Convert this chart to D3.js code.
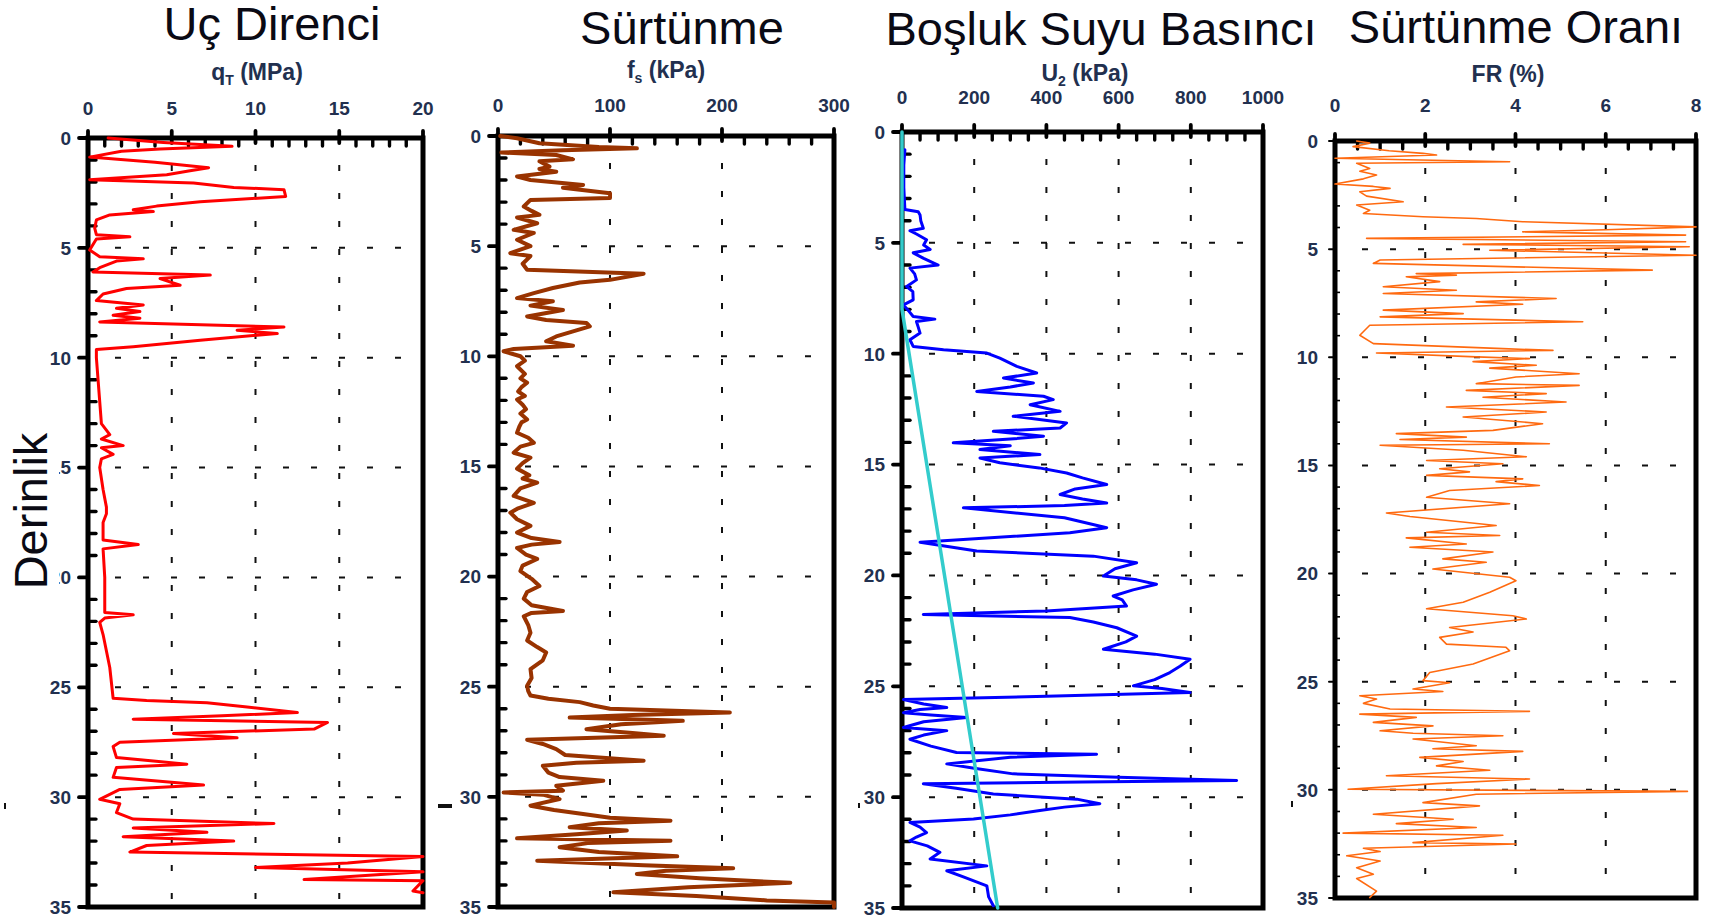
<!DOCTYPE html>
<html>
<head>
<meta charset="utf-8">
<script src="https://cdn.jsdelivr.net/npm/d3@7/dist/d3.min.js"></script>
<style>
  html, body { margin: 0; padding: 0; background: #fff; }
  svg { display: block; }
  text { font-family: "Liberation Sans", Arial, sans-serif; }
</style>
</head>
<body>
<svg id="chart" width="1725" height="920"></svg>
<script>
// CPT sounding: depth (m) vs. cone resistance, sleeve friction, pore pressure, friction ratio

const depthTicks = [0, 5, 10, 15, 20, 25, 30, 35];
const qtTicks = [0, 5, 10, 15, 20];
const fsTicks = [0, 100, 200, 300];
const u2Ticks = [0, 200, 400, 600, 800, 1000];
const frTicks = [0, 2, 4, 6, 8];

// [depth m, qT MPa]
const qtProfile = [
  [0,1.2],[0.2,4.5],[0.38,8.6],[0.5,4.3],[0.6,2.0],[0.87,0.1],[1.1,4.0],[1.35,7.2],[1.5,6.0],[1.67,4.7],
  [1.9,0.1],[2.05,6.3],[2.25,8.7],[2.35,11.7],[2.66,11.8],[2.9,6.7],[3.1,4.1],[3.27,2.7],[3.35,3.9],[3.5,1.3],
  [3.73,0.5],[4.1,0.4],[4.4,0.5],[4.5,2.5],[4.6,0.5],[4.85,0.3],[5.1,0.1],[5.4,0.7],[5.5,3.3],[5.6,1.7],
  [5.9,0.7],[6.1,0.3],[6.24,7.3],[6.4,4.3],[6.7,5.5],[6.85,2.3],[7.1,0.9],[7.4,0.5],[7.6,3.3],[7.75,1.7],
  [7.9,3.1],[8.07,1.5],[8.2,3.1],[8.37,0.7],[8.6,11.7],[8.75,8.9],[8.9,11.3],[9.2,6.7],[9.5,2.7],[9.63,0.5],
  [10,0.5],[11,0.6],[12,0.7],[13,0.8],[13.5,1.3],[13.7,0.8],[14,2.1],[14.1,0.8],[14.4,1.5],[14.6,0.8],
  [15,0.7],[16,0.9],[16.8,1.1],[17.1,1.1],[17.5,0.9],[18.3,0.9],[18.5,3.0],[18.7,0.9],[20,1.0],[21.6,1.0],
  [21.7,2.7],[21.85,1.0],[22.05,0.7],[22.6,0.9],[24.1,1.3],[25.5,1.5],[25.6,3.5],[25.7,7.1],[25.9,9.5],[26.15,12.5],
  [26.3,8.0],[26.45,2.7],[26.6,14.3],[26.9,13.5],[27.1,5.1],[27.3,8.9],[27.5,1.9],[27.7,1.5],[28.2,1.7],[28.35,3.9],
  [28.5,5.9],[28.65,1.7],[29.1,1.5],[29.45,6.9],[29.65,1.9],[30.1,0.7],[30.3,1.9],[30.7,1.7],[31.0,2.7],[31.2,11.1],
  [31.4,2.7],[31.6,7.1],[31.8,2.1],[32.0,8.7],[32.2,3.5],[32.5,2.5],[32.7,20],[33.0,15.5],[33.2,10],[33.4,20],
  [33.75,12.9],[33.8,20],[34.27,19.4],[34.35,20]
];

// [depth m, fs kPa]
const fsProfile = [
  [0,2],[0.1,17],[0.33,37],[0.5,90],[0.56,124],[0.65,58],[0.75,3],[0.86,52],[1.06,67],[1.15,37],
  [1.39,46],[1.5,37],[1.62,52],[1.84,17],[2.0,29],[2.22,76],[2.35,58],[2.6,100],[2.82,100],[2.9,29],
  [3.2,23],[3.4,30],[3.58,37],[3.7,17],[3.96,35],[4.26,14],[4.4,32],[4.71,17],[5.0,29],[5.32,11],
  [5.45,29],[5.8,22],[6.07,26],[6.25,130],[6.53,100],[6.65,73],[6.9,49],[7.13,32],[7.36,17],[7.5,49],
  [7.7,29],[7.9,58],[8.19,26],[8.35,43],[8.49,79],[8.64,82],[8.87,67],[9.1,52],[9.32,43],[9.52,67],
  [9.67,14],[9.77,5],[10.0,20],[10.2,24],[10.45,17],[10.8,24],[11.0,20],[11.2,26],[11.4,21],[11.6,18],
  [11.8,24],[11.96,17],[12.2,22],[12.4,25],[12.6,20],[12.87,26],[13.0,21],[13.2,19],[13.47,17],[13.7,27],
  [13.93,32],[14.1,20],[14.38,14],[14.6,29],[14.85,22],[15.1,17],[15.4,28],[15.55,22],[15.74,35],[16.0,20],
  [16.34,14],[16.65,32],[16.9,18],[17.1,11],[17.4,17],[17.7,29],[18.0,17],[18.25,30],[18.43,55],[18.55,30],
  [18.7,17],[19.0,25],[19.2,35],[19.5,22],[19.75,20],[20.1,30],[20.43,37],[20.7,26],[21.0,23],[21.3,30],
  [21.56,58],[21.65,30],[21.8,23],[22.2,27],[22.55,29],[22.9,26],[23.2,35],[23.45,43],[23.8,40],[24.2,29],
  [24.6,30],[24.96,26],[25.2,27],[25.4,29],[25.55,45],[25.7,73],[25.85,85],[26.0,100],[26.08,150],[26.17,207],
  [26.28,120],[26.4,64],[26.55,165],[26.7,110],[26.93,79],[27.1,120],[27.23,148],[27.41,26],[27.6,40],[27.83,52],
  [28.1,60],[28.36,130],[28.45,70],[28.59,40],[28.9,45],[29.1,55],[29.27,94],[29.5,52],[29.72,58],[29.8,5],
  [29.9,40],[30.1,55],[30.4,29],[30.6,50],[30.78,76],[30.95,100],[31.08,154],[31.2,90],[31.38,64],[31.53,115],
  [31.7,70],[31.88,17],[31.99,154],[32.1,80],[32.29,55],[32.5,90],[32.7,160],[32.9,35],[33.1,130],[33.24,210],
  [33.35,150],[33.5,124],[33.7,180],[33.9,261],[34.1,170],[34.33,103],[34.5,177],[34.7,240],[34.8,300],[35,300]
];

// [depth m, u2 kPa]
const u2Profile = [
  [0.8,8],[1.5,5],[2.5,5],[3.5,8],[3.6,45],[3.74,50],[4.0,52],[4.34,59],[4.45,22],[4.6,40],
  [4.86,68],[5.1,60],[5.3,78],[5.45,31],[5.7,60],[6.0,100],[6.14,22],[6.4,35],[6.67,40],[6.97,13],
  [7.2,30],[7.57,31],[7.8,4],[8.1,20],[8.32,31],[8.44,91],[8.55,40],[8.8,45],[9.07,50],[9.37,22],
  [9.67,31],[9.82,115],[9.97,235],[10.2,271],[10.57,318],[10.87,373],[11.1,281],[11.32,364],[11.5,300],[11.7,207],
  [11.92,392],[12.07,419],[12.3,355],[12.6,438],[12.82,308],[13.12,456],[13.35,438],[13.5,253],[13.72,392],[13.85,300],
  [14.02,142],[14.15,300],[14.32,216],[14.55,382],[14.7,216],[14.92,271],[15.15,380],[15.38,456],[15.6,500],[15.9,567],
  [16.1,480],[16.35,438],[16.55,500],[16.73,567],[16.85,450],[16.95,170],[17.4,450],[17.85,567],[18.08,465],[18.5,50],
  [18.9,207],[19.13,530],[19.43,650],[19.7,590],[20.03,558],[20.2,650],[20.4,705],[20.65,640],[20.93,585],[21.1,610],
  [21.38,622],[21.6,400],[21.76,59],[21.9,465],[22.1,530],[22.36,595],[22.74,650],[23.0,620],[23.33,558],[23.55,700],
  [23.78,798],[24.1,770],[24.38,742],[24.7,700],[24.98,641],[25.1,720],[25.28,798],[25.45,400],[25.6,4],[25.8,60],
  [25.96,124],[26.05,50],[26.19,4],[26.3,80],[26.41,179],[26.6,60],[26.86,4],[27.0,124],[27.2,60],[27.39,22],
  [27.7,80],[27.99,151],[28.07,539],[28.2,300],[28.5,124],[28.7,200],[28.95,308],[29.1,600],[29.25,927],[29.32,500],
  [29.4,59],[29.6,150],[29.86,253],[30.09,484],[30.3,548],[30.45,450],[30.6,382],[30.8,300],[30.99,198],[31.14,22],
  [31.35,50],[31.6,68],[31.8,40],[31.97,22],[32.2,70],[32.49,105],[32.79,78],[33.1,235],[33.32,124],[33.6,170],
  [34.0,235],[34.5,240],[34.9,253]
];

// hydrostatic pore pressure, water table at 8 m: [depth m, u0 kPa]
const u0Line = [[0,0],[8,0],[35,265]];

// [depth m, FR %]
const frProfile = [
  [0,0.48],[0.1,0.77],[0.26,0.4],[0.45,1.2],[0.57,1.95],[0.65,2.25],[0.8,0],[0.88,1.88],[0.96,3.87],[1.03,0.48],
  [1.27,0.77],[1.4,0.55],[1.57,0.92],[1.75,0.63],[1.99,0],[2.1,0.85],[2.19,1.22],[2.35,0.55],[2.55,0.7],[2.81,1.51],
  [2.96,0.48],[3.2,0.77],[3.35,0.63],[3.5,1.95],[3.58,3.13],[3.73,4.16],[3.97,8],[4.1,6],[4.2,4.16],[4.35,7.77],
  [4.5,0.7],[4.66,7.77],[4.78,2.84],[4.89,7.85],[5.05,3.43],[5.28,8],[5.5,1.0],[5.66,0.85],[5.97,7.03],[6.13,1.8],
  [6.2,2.69],[6.28,1.58],[6.5,2.32],[6.74,1.07],[6.9,2.69],[7.05,1.07],[7.28,4.9],[7.44,3.13],[7.55,4.16],[7.82,1.07],
  [7.98,2.84],[8.13,1.0],[8.36,5.49],[8.52,0.77],[8.98,0.55],[9.37,0.85],[9.6,3.72],[9.68,4.83],[9.8,0.92],[9.98,3.13],
  [10.06,4.31],[10.2,3.06],[10.37,4.46],[10.5,3.43],[10.76,5.41],[10.91,4.01],[11.22,3.13],[11.3,5.41],[11.53,2.91],[11.68,4.68],
  [11.85,3.28],[12.07,5.12],[12.3,2.47],[12.53,4.68],[12.76,2.84],[13.07,4.6],[13.38,3.5],[13.53,1.36],[13.69,2.91],[13.8,1.44],
  [14.0,4.75],[14.07,1.0],[14.3,2.84],[14.6,4.24],[14.77,2.03],[14.92,3.72],[15.15,2.32],[15.3,2.98],[15.46,2.03],[15.62,4.16],
  [15.75,3.57],[15.93,4.53],[16.16,2.54],[16.47,2.03],[16.77,3.87],[17.2,1.14],[17.36,1.66],[17.78,3.57],[18.09,2.03],[18.24,3.65],
  [18.35,1.58],[18.63,2.91],[18.78,1.66],[19.0,3.5],[19.32,2.39],[19.48,3.35],[19.79,2.17],[20.17,3.87],[20.33,4.01],[20.86,3.43],
  [21.33,2.84],[21.63,2.03],[21.95,3.94],[22.1,4.24],[22.49,2.54],[22.7,3.06],[22.95,2.32],[23.26,2.47],[23.41,3.79],[23.57,3.87],
  [24.18,3.06],[24.57,2.1],[24.95,1.95],[25.05,2.54],[25.34,1.73],[25.45,2.39],[25.65,0.55],[25.8,0.92],[26.0,0.63],[26.26,1.22],
  [26.37,4.31],[26.5,0.55],[26.65,1.8],[26.88,0.85],[27.04,2.17],[27.27,1.0],[27.38,1.73],[27.5,3.72],[27.65,1.73],[27.96,3.13],
  [28.1,2.17],[28.22,4.16],[28.5,1.88],[28.69,2.84],[28.89,2.25],[29.09,3.43],[29.35,1.14],[29.5,4.31],[29.71,2.25],[29.97,0.29],
  [30.07,7.81],[30.2,3.13],[30.59,1.95],[30.74,3.2],[31.13,0.85],[31.36,2.62],[31.56,1.36],[31.74,3.13],[32.0,0.18],[32.1,3.72],
  [32.44,1.73],[32.5,4.01],[32.7,0.63],[32.85,1.0],[33.05,0.26],[33.29,1.0],[33.6,0.48],[33.9,0.85],[34.1,0.48],[34.68,0.92],
  [34.98,0.77]
];

const labelColor = "#22304f";

const panels = [
  { id: "qt", title: "Uç Direnci", titleX: 272, titleY: 40,
    sub: ["q", "T", " (MPa)"], subX: 257, subY: 80,
    domain: [0, 20], ticks: qtTicks, minorStep: 1, tickLabelY: 115,
    box: { l: 88, r: 423, t: 138, b: 907 }, thinMinorY: false,
    series: [{ data: qtProfile, color: "#ff0000", width: 3 }] },
  { id: "fs", title: "Sürtünme", titleX: 682, titleY: 44,
    sub: ["f", "s", " (kPa)"], subX: 666, subY: 78,
    domain: [0, 300], ticks: fsTicks, minorStep: 20, tickLabelY: 112,
    box: { l: 498, r: 834, t: 136, b: 907 }, thinMinorY: false,
    series: [{ data: fsProfile, color: "#993300", width: 4 }] },
  { id: "u2", title: "Boşluk Suyu Basıncı", titleX: 1101, titleY: 45,
    sub: ["U", "2", " (kPa)"], subX: 1085, subY: 81,
    domain: [0, 1000], ticks: u2Ticks, minorStep: 50, tickLabelY: 104,
    box: { l: 902, r: 1263, t: 132, b: 908 }, thinMinorY: false,
    series: [{ data: u2Profile, color: "#0000ff", width: 3 },
             { data: u0Line, color: "#33cccc", width: 3.5 }] },
  { id: "fr", title: "Sürtünme Oranı", titleX: 1516, titleY: 43,
    sub: ["FR (%)", "", ""], subX: 1508, subY: 82,
    domain: [0, 8], ticks: frTicks, minorStep: 0.5, tickLabelY: 112,
    box: { l: 1335, r: 1696, t: 141, b: 898 }, thinMinorY: true,
    series: [{ data: frProfile, color: "#ff6a10", width: 1.6 }] }
];

const svg = d3.select("#chart");
const defs = svg.append("defs");

panels.forEach(p => {
  const b = p.box;
  const x = d3.scaleLinear().domain(p.domain).range([b.l, b.r]);
  const y = d3.scaleLinear().domain([0, 35]).range([b.t, b.b]);
  const g = svg.append("g").attr("class", "panel-" + p.id);

  // title
  g.append("text").attr("x", p.titleX).attr("y", p.titleY)
    .attr("text-anchor", "middle").attr("font-size", 47).attr("fill", "#0a0a14")
    .text(p.title);

  // axis caption with subscript
  const st = g.append("text").attr("x", p.subX).attr("y", p.subY)
    .attr("text-anchor", "middle").attr("font-size", 23).attr("font-weight", "bold")
    .attr("fill", labelColor);
  st.append("tspan").text(p.sub[0]);
  if (p.sub[1]) {
    st.append("tspan").attr("font-size", 14).attr("dy", 5).text(p.sub[1]);
    st.append("tspan").attr("dy", -5).text(p.sub[2]);
  }

  // dashed grid
  const grid = g.append("g").attr("stroke", "#111").attr("stroke-width", 2)
    .attr("stroke-dasharray", "6 22");
  depthTicks.filter(d => d > 0 && d < 35).forEach(d => {
    grid.append("line").attr("x1", b.l + 27).attr("x2", b.r - 4)
      .attr("y1", y(d)).attr("y2", y(d));
  });
  p.ticks.filter(v => v > p.domain[0] && v < p.domain[1]).forEach(v => {
    grid.append("line").attr("x1", x(v)).attr("x2", x(v))
      .attr("y1", b.t + 27).attr("y2", b.b - 3);
  });

  // top axis ticks: majors straddle the frame, minors point inward
  const tk = g.append("g").attr("stroke", "#000").attr("stroke-linecap", "round");
  const minorX = d3.range(p.domain[0], p.domain[1] + 1e-9, p.minorStep)
    .filter(v => !p.ticks.some(t => Math.abs(t - v) < 1e-9));
  minorX.forEach(v => {
    tk.append("line").attr("x1", x(v)).attr("x2", x(v))
      .attr("y1", b.t).attr("y2", b.t + 8).attr("stroke-width", 3.4);
  });
  p.ticks.forEach(v => {
    tk.append("line").attr("x1", x(v)).attr("x2", x(v))
      .attr("y1", b.t - 7).attr("y2", b.t + 5).attr("stroke-width", 3.8);
  });
  // left axis ticks
  d3.range(1, 35).filter(d => d % 5 !== 0).forEach(d => {
    tk.append("line").attr("x1", b.l).attr("x2", b.l + (p.thinMinorY ? 5 : 8))
      .attr("y1", y(d)).attr("y2", y(d))
      .attr("stroke-width", p.thinMinorY ? 1.6 : 3.4)
      .attr("stroke-linecap", p.thinMinorY ? "butt" : "round");
  });
  depthTicks.forEach(d => {
    tk.append("line").attr("x1", b.l - (p.thinMinorY ? 6 : 9)).attr("x2", b.l)
      .attr("y1", y(d)).attr("y2", y(d))
      .attr("stroke-width", p.thinMinorY ? 2 : 3.8);
  });

  // frame
  g.append("rect").attr("x", b.l).attr("y", b.t)
    .attr("width", b.r - b.l).attr("height", b.b - b.t)
    .attr("fill", "none").attr("stroke", "#000").attr("stroke-width", 5);

  // tick labels
  const tl = g.append("g").attr("font-size", 19).attr("font-weight", "bold").attr("fill", labelColor);
  p.ticks.forEach(v => {
    tl.append("text").attr("x", x(v)).attr("y", p.tickLabelY)
      .attr("text-anchor", "middle").text(d3.format("d")(v));
  });
  depthTicks.forEach(d => {
    tl.append("text").attr("x", b.l - 17).attr("y", y(d)).attr("dy", "0.36em")
      .attr("text-anchor", "end").text(d);
  });

  // profiles, clipped to the plotting frame
  defs.append("clipPath").attr("id", "clip-" + p.id).append("rect")
    .attr("x", b.l - 2).attr("y", b.t - 2)
    .attr("width", b.r - b.l + 4).attr("height", b.b - b.t + 4);
  const line = d3.line().x(d => x(d[1])).y(d => y(d[0]));
  const sg = g.append("g").attr("clip-path", "url(#clip-" + p.id + ")");
  p.series.forEach(s => {
    sg.append("path").datum(s.data).attr("d", line)
      .attr("fill", "none").attr("stroke", s.color).attr("stroke-width", s.width)
      .attr("stroke-linejoin", "round").attr("stroke-linecap", "round");
  });
});

// shared depth caption on a white box that sits over the first panel's labels
const cap = svg.append("g");
cap.append("rect").attr("x", 8).attr("y", 428).attr("width", 51).attr("height", 166).attr("fill", "#fff");
cap.append("text").attr("transform", "translate(47,511) rotate(-90)")
  .attr("text-anchor", "middle").attr("font-size", 47).attr("fill", "#0a0a14")
  .text("Derinlik");

// small stray marks beside the 30 m level
const marks = svg.append("g").attr("fill", "#111");
marks.append("rect").attr("x", 438).attr("y", 804).attr("width", 14).attr("height", 4);
marks.append("rect").attr("x", 4).attr("y", 803).attr("width", 2).attr("height", 6);
marks.append("rect").attr("x", 858).attr("y", 803).attr("width", 2).attr("height", 5);
marks.append("rect").attr("x", 1291).attr("y", 801).attr("width", 2).attr("height", 6);
</script>
</body>
</html>
